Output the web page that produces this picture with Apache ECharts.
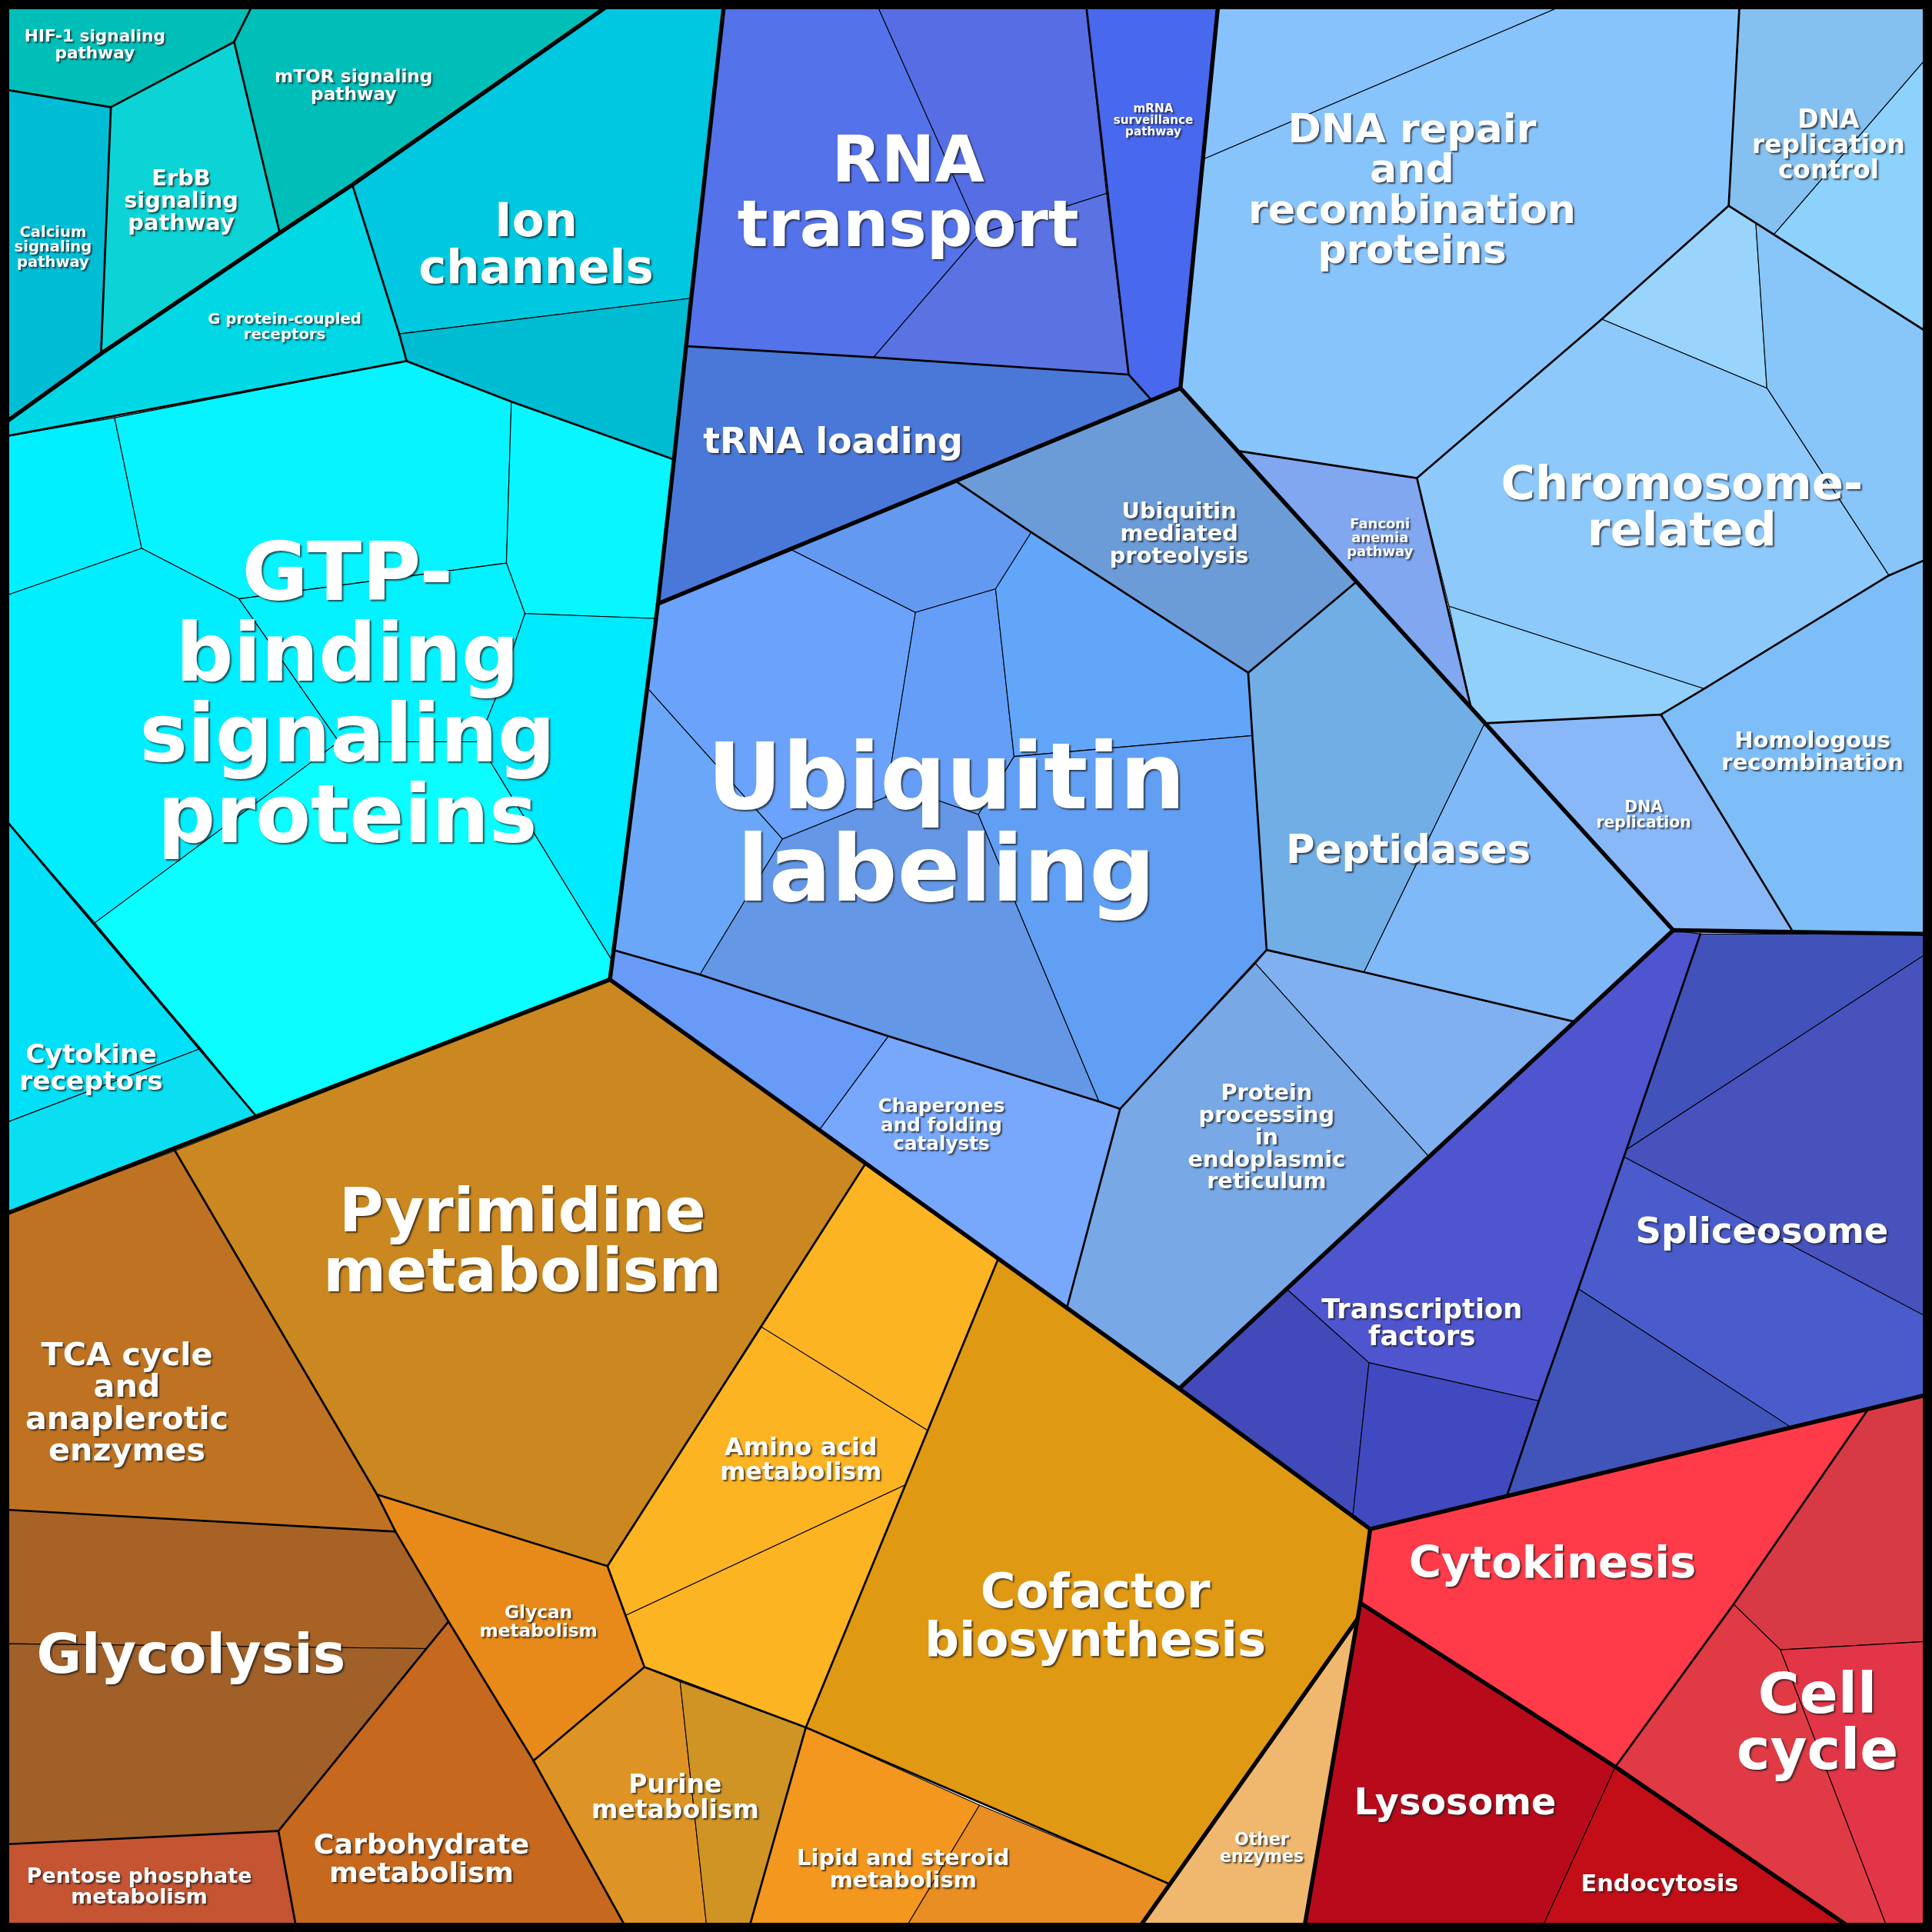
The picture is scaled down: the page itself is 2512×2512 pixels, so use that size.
<!DOCTYPE html>
<html>
<head>
<meta charset="utf-8">
<title>Proteomap</title>
<script src="https://cdn.jsdelivr.net/npm/echarts@6/dist/echarts.min.js"></script>
<style>
  html, body { margin: 0; padding: 0; background: #fff; }
  #chart { width: 2512px; height: 2512px; }
</style>
</head>
<body>
<div id="chart"></div>
<script>
// cell outlines, in the 1568 x 1568 map space (y grows downwards)
const cellNames = [
  "HIF-1", "Calcium", "ErbB", "mTOR", "G protein", "Ion 1", "Ion 2",
  "GTP a", "GTP b", "GTP c", "GTP d", "GTP e", "GTP f", "GTP g", "Cytokine 1", "Cytokine 2",
  "RNA 1", "RNA 2", "RNA 3", "mRNA", "tRNA",
  "Ub mediated", "Ub a", "Ub b", "Ub c", "Ub d", "Ub e", "Ub f", "Ub g", "Ub h", "Chaperones",
  "Peptidases 1", "Peptidases 2", "ER 2", "ER 1",
  "DNA repair 2", "DNA repair 1", "DNA rep control 1", "DNA rep control 2", "Fanconi",
  "Chromosome 1", "Chromosome 2", "Chromosome 3", "Chromosome 4", "Homologous", "DNA replication",
  "TF", "TF 2", "TF 3", "Spliceosome 1", "Spliceosome 2", "Spliceosome 3", "Spliceosome 4",
  "Cytokinesis", "Cell cycle 1", "Cell cycle 2", "Cell cycle 3", "Lysosome", "Endocytosis",
  "TCA", "Glycolysis 1", "Glycolysis 2", "Pentose", "Carbohydrate", "Glycan", "Pyrimidine",
  "Amino 1", "Amino 2", "Amino 3", "Purine 1", "Purine 2", "Cofactor", "Lipid 1", "Lipid 2", "Other"
];

const cellPolygons = [
  [[0,0],[207,0],[190,34],[90,87],[0,72]],
  [[0,72],[90,87],[82,287],[0,346]],
  [[90,87],[190,34],[227,189],[82,287]],
  [[207,0],[500,0],[286,150],[227,189],[190,34]],
  [[0,346],[82,287],[227,189],[286,150],[324,271],[330,293],[0,355]],
  [[286,150],[500,0],[588,0],[561,242],[324,271]],
  [[324,271],[561,242],[547,373],[415,326],[330,293]],
  [[0,355],[93,339],[115,445],[0,485]],
  [[93,339],[330,293],[415,326],[411,457],[194,486],[115,445]],
  [[415,326],[547,373],[533,502],[426,498],[411,457]],
  [[0,485],[115,445],[194,486],[275,602],[77,749],[0,660]],
  [[194,486],[411,457],[426,498],[405,560],[388,602],[275,602]],
  [[426,498],[533,502],[497,780],[388,602],[405,560]],
  [[77,749],[275,602],[388,602],[497,780],[495,795],[208,906]],
  [[0,660],[163,851],[0,913]],
  [[0,913],[163,851],[208,906],[0,987]],
  [[588,0],[710,0],[795,190],[709,290],[557,281]],
  [[710,0],[881,0],[898,157],[795,190]],
  [[795,190],[898,157],[916,304],[709,290]],
  [[881,0],[989,0],[958,315],[934,324],[916,304]],
  [[557,281],[709,290],[916,304],[934,324],[534,490]],
  [[775,390],[958,315],[1101,472],[1013,546],[837,432]],
  [[534,490],[642,446],[743,497],[719,647],[635,681],[525,558]],
  [[642,446],[775,390],[837,432],[808,478],[743,497]],
  [[743,497],[808,478],[823,614],[794,661],[762,650],[719,647]],
  [[808,478],[837,432],[1013,546],[1017,597],[823,614]],
  [[525,558],[635,681],[568,791],[498,771]],
  [[635,681],[719,647],[762,650],[794,661],[892,894],[721,841],[568,791]],
  [[794,661],[823,614],[1017,597],[1028,771],[909,900],[892,894]],
  [[498,771],[568,791],[721,841],[665,917],[495,795]],
  [[721,841],[892,894],[909,900],[866,1061],[665,917]],
  [[1013,546],[1101,472],[1205,587],[1107,789],[1028,771]],
  [[1205,587],[1358,755],[1277,829],[1107,789]],
  [[1028,771],[1107,789],[1277,829],[1159,938],[1019,782]],
  [[1019,782],[1159,938],[957,1127],[866,1061],[909,900]],
  [[989,0],[1279,0],[977,129]],
  [[977,129],[1279,0],[1412,0],[1403,167],[1300,259],[1150,388],[1005,366],[958,315]],
  [[1412,0],[1568,0],[1568,42],[1440,190],[1403,167]],
  [[1440,190],[1568,42],[1568,272]],
  [[1005,366],[1150,388],[1194,575]],
  [[1300,259],[1403,167],[1425,181],[1434,315]],
  [[1425,181],[1568,272],[1568,452],[1533,467],[1434,315]],
  [[1150,388],[1300,259],[1434,315],[1533,467],[1383,559],[1176,492]],
  [[1176,492],[1383,559],[1348,580],[1205,587],[1194,575]],
  [[1533,467],[1568,452],[1568,757],[1455,756],[1348,580],[1383,559]],
  [[1205,587],[1348,580],[1455,756],[1358,755]],
  [[1358,755],[1380,758],[1320,933],[1281,1046],[1249,1137],[1111,1106],[1044,1046]],
  [[957,1127],[1044,1046],[1111,1106],[1098,1230]],
  [[1111,1106],[1249,1137],[1223,1214],[1112,1241],[1098,1230]],
  [[1380,758],[1568,758],[1568,771],[1320,933]],
  [[1320,933],[1568,771],[1568,1071],[1318,939]],
  [[1318,939],[1568,1071],[1568,1131],[1453,1158],[1281,1046]],
  [[1281,1046],[1453,1158],[1223,1214],[1249,1137]],
  [[1112,1241],[1516,1144],[1407,1302],[1311,1434],[1104,1301]],
  [[1516,1144],[1568,1131],[1568,1332],[1445,1339],[1407,1302]],
  [[1407,1302],[1445,1339],[1533,1568],[1507,1568],[1311,1434]],
  [[1445,1339],[1568,1332],[1568,1568],[1533,1568]],
  [[1104,1301],[1311,1434],[1250,1568],[1058,1568]],
  [[1311,1434],[1507,1568],[1250,1568]],
  [[0,987],[142,934],[306,1213],[321,1243],[0,1225]],
  [[0,1225],[321,1243],[364,1316],[346,1338],[0,1334]],
  [[0,1334],[346,1338],[226,1486],[0,1497]],
  [[0,1497],[226,1486],[241,1568],[0,1568]],
  [[364,1316],[433,1429],[510,1568],[241,1568],[226,1486],[346,1338]],
  [[306,1213],[493,1271],[523,1353],[433,1429],[364,1316],[321,1243]],
  [[142,934],[495,795],[702,945],[618,1077],[493,1271],[306,1213]],
  [[702,945],[810,1022],[753,1161],[618,1077]],
  [[618,1077],[753,1161],[735,1205],[508,1311],[493,1271]],
  [[508,1311],[735,1205],[654,1402],[523,1353]],
  [[433,1429],[523,1353],[552,1365],[574,1568],[510,1568]],
  [[552,1365],[654,1402],[607,1568],[574,1568]],
  [[810,1022],[957,1127],[1112,1241],[1104,1301],[1101,1315],[949,1529],[654,1402]],
  [[654,1402],[795,1465],[733,1568],[607,1568]],
  [[795,1465],[949,1529],[922,1568],[733,1568]],
  [[1101,1315],[1058,1568],[922,1568]]
];

const cellColors = [
  "#00bfb8", "#00bdd6", "#0cd4d6", "#00beb8", "#00d8e6", "#00c8e0", "#00bcd2",
  "#00f0ff", "#06f4ff", "#08f6ff", "#00eeff", "#04f2ff", "#00eafe", "#0afeff", "#00e0f8", "#0adff2",
  "#5472ea", "#566de4", "#5a72e2", "#4868ee", "#4a78d8",
  "#6c9cd8", "#6aa2fc", "#6499f0", "#659ef8", "#62a6fa", "#6aa7f8", "#6497e6", "#619ff5", "#689af8", "#78a8fc",
  "#72aee6", "#80b9f8", "#80b0f0", "#78a8e6",
  "#88c2fc", "#88c4fc", "#84c0f0", "#8cd2fc", "#80a7f0",
  "#98d4fc", "#88c5f8", "#8ec9fc", "#92d0fc", "#7ebef8", "#88b8f8",
  "#4e55cf", "#414ab8", "#4049c0", "#4153ba", "#4852bc", "#4a5ccc", "#4054ba",
  "#ff3b4a", "#d83a45", "#e03a44", "#e33548", "#b80a1b", "#c30e17",
  "#bf7322", "#a86225", "#a06028", "#c45432", "#c6681e", "#e88a1a", "#cb8820",
  "#fdb422", "#fdb422", "#fdb422", "#de9424", "#cf9424", "#e09912", "#f3971f", "#e88e22", "#f0b86e"
];

// group borders
const mediumEdges = [
  [[207,0],[190,34],[90,87],[0,72]],
  [[190,34],[227,189]],
  [[90,87],[82,287]],
  [[286,150],[324,271],[330,293],[0,355]],
  [[330,293],[415,326],[547,373]],
  [[0,660],[208,906]],
  [[557,281],[709,290],[916,304],[934,324]],
  [[881,0],[916,304]],
  [[775,390],[837,432],[1013,546],[1101,472]],
  [[1013,546],[1028,771],[1107,789],[1277,829]],
  [[1028,771],[909,900],[866,1061]],
  [[498,771],[568,791],[721,841],[892,894],[909,900]],
  [[1412,0],[1403,167],[1300,259],[1150,388],[1005,366]],
  [[1150,388],[1194,575]],
  [[1403,167],[1568,272]],
  [[1205,587],[1348,580],[1455,756]],
  [[1348,580],[1383,559],[1533,467],[1568,452]],
  [[1380,758],[1320,933],[1281,1046],[1249,1137],[1223,1214]],
  [[1516,1144],[1407,1302],[1311,1434]],
  [[142,934],[306,1213],[321,1243],[364,1316],[433,1429],[510,1568]],
  [[0,1225],[321,1243]],
  [[0,1497],[226,1486],[241,1568]],
  [[364,1316],[346,1338],[226,1486]],
  [[306,1213],[493,1271],[523,1353],[433,1429]],
  [[702,945],[493,1271]],
  [[810,1022],[654,1402],[607,1568]],
  [[523,1353],[654,1402],[949,1529]]
];

const thickEdges = [
  [[0,346],[82,287],[227,189],[286,150],[500,0]],
  [[588,0],[561,242],[547,373],[534,490],[495,795]],
  [[0,987],[208,906],[495,795],[957,1127],[1112,1241],[1104,1301],[1058,1568]],
  [[989,0],[958,315],[534,490]],
  [[958,315],[1358,755],[957,1127]],
  [[1358,755],[1568,758]],
  [[1112,1241],[1568,1131]],
  [[1104,1301],[1311,1434],[1507,1568]],
  [[1101,1315],[922,1568]]
];

// labels
const labelTexts = [
  "HIF-1 signaling\npathway", "mTOR signaling\npathway", "ErbB\nsignaling\npathway",
  "Calcium\nsignaling\npathway", "G protein-coupled\nreceptors", "Ion\nchannels",
  "GTP-\nbinding\nsignaling\nproteins", "Cytokine\nreceptors", "RNA\ntransport",
  "mRNA\nsurveillance\npathway", "tRNA loading", "DNA repair\nand\nrecombination\nproteins",
  "DNA\nreplication\ncontrol", "Ubiquitin\nmediated\nproteolysis", "Fanconi\nanemia\npathway",
  "Chromosome-\nrelated", "Ubiquitin\nlabeling", "Peptidases", "DNA\nreplication",
  "Homologous\nrecombination", "Chaperones\nand folding\ncatalysts",
  "Protein\nprocessing\nin\nendoplasmic\nreticulum", "Spliceosome", "Transcription\nfactors",
  "Pyrimidine\nmetabolism", "TCA cycle\nand\nanaplerotic\nenzymes", "Glycolysis",
  "Glycan\nmetabolism", "Amino acid\nmetabolism", "Cofactor\nbiosynthesis", "Purine\nmetabolism",
  "Carbohydrate\nmetabolism", "Pentose phosphate\nmetabolism", "Lipid and steroid\nmetabolism",
  "Other\nenzymes", "Cytokinesis", "Lysosome", "Endocytosis", "Cell\ncycle"
];
const labelX = [77, 287, 147, 43, 231, 435, 282, 74, 737, 936, 676, 1146, 1484, 957, 1120, 1365, 768, 1143, 1334,
  1471, 764, 1028, 1430, 1154, 424, 103, 155, 437, 650, 889, 548, 342, 113, 733, 1024, 1260, 1181, 1347, 1475];
const labelY = [37, 70, 164, 201, 266, 201, 568, 868, 160, 98, 360, 156, 119, 434, 437, 414, 674, 692, 662,
  611, 914, 924, 1001, 1075, 1011, 1140, 1346, 1317, 1186, 1314, 1460, 1510, 1532, 1518, 1501, 1271, 1465, 1530, 1401];
const labelSizes = [13.5, 14.5, 18, 12.2, 12.3, 38, 65.5, 21.5, 52, 9.5, 28.5, 32.6, 20.5, 18, 11.2, 37.8, 75, 32, 12.7,
  18.1, 15.4, 18, 29, 22, 49, 25.8, 44.6, 14.5, 19.9, 39, 20.6, 22.7, 16.8, 18.1, 13.8, 36, 29.8, 19, 46];

const MAP = 1568;
let myChart = echarts.init(document.getElementById("chart"));
const scale = myChart.getWidth() / MAP;

function edgeSeries(edges, width, z) {
  return {
    type: "custom",
    z: z,
    silent: true,
    data: edges.map((e, i) => [i, 0]),
    renderItem: function (params, api) {
      let pts = edges[params.dataIndex].map(p => api.coord(p));
      return {
        type: "polyline",
        shape: { points: pts },
        style: { fill: null, stroke: "#000", lineWidth: width, lineJoin: "round", lineCap: "round" }
      };
    }
  };
}

let options = {
  animation: false,
  backgroundColor: "#fff",
  grid: { left: 0, right: 0, top: 0, bottom: 0 },
  xAxis: { type: "value", min: 0, max: MAP, show: false },
  yAxis: { type: "value", min: 0, max: MAP, inverse: true, show: false },
  series: [
    {
      type: "custom",
      z: 1,
      silent: true,
      data: cellNames.map((n, i) => ({ name: n, value: [i, 0] })),
      renderItem: function (params, api) {
        let pts = cellPolygons[params.dataIndex].map(p => api.coord(p));
        return {
          type: "polygon",
          shape: { points: pts },
          style: { fill: cellColors[params.dataIndex], stroke: "#000", lineWidth: 1.1, lineJoin: "round" }
        };
      }
    },
    edgeSeries(mediumEdges, 2.7, 2),
    edgeSeries(thickEdges, 5.4, 3),
    {
      type: "scatter",
      z: 4,
      symbolSize: 0,
      silent: true,
      itemStyle: { opacity: 1 },
      data: labelTexts.map((t, i) => ({
        name: t,
        value: [labelX[i], labelY[i]],
        label: { fontSize: labelSizes[i] * scale, lineHeight: labelSizes[i] * scale }
      })),
      label: {
        show: true,
        position: "inside",
        formatter: p => p.name,
        color: "#ffffff",
        opacity: 1,
        fontFamily: "DejaVu Sans",
        fontWeight: "bold",
        align: "center",
        verticalAlign: "middle",
        textShadowColor: "rgba(30,30,30,0.75)",
        textShadowBlur: 2,
        textShadowOffsetX: 2,
        textShadowOffsetY: 2
      }
    }
  ],
  graphic: [
    {
      type: "rect",
      z: 100,
      silent: true,
      shape: { x: 0, y: 0, width: myChart.getWidth(), height: myChart.getHeight() },
      style: { fill: null, stroke: "#000", lineWidth: 24 }
    }
  ]
};

myChart.setOption(options);
</script>
</body>
</html>
